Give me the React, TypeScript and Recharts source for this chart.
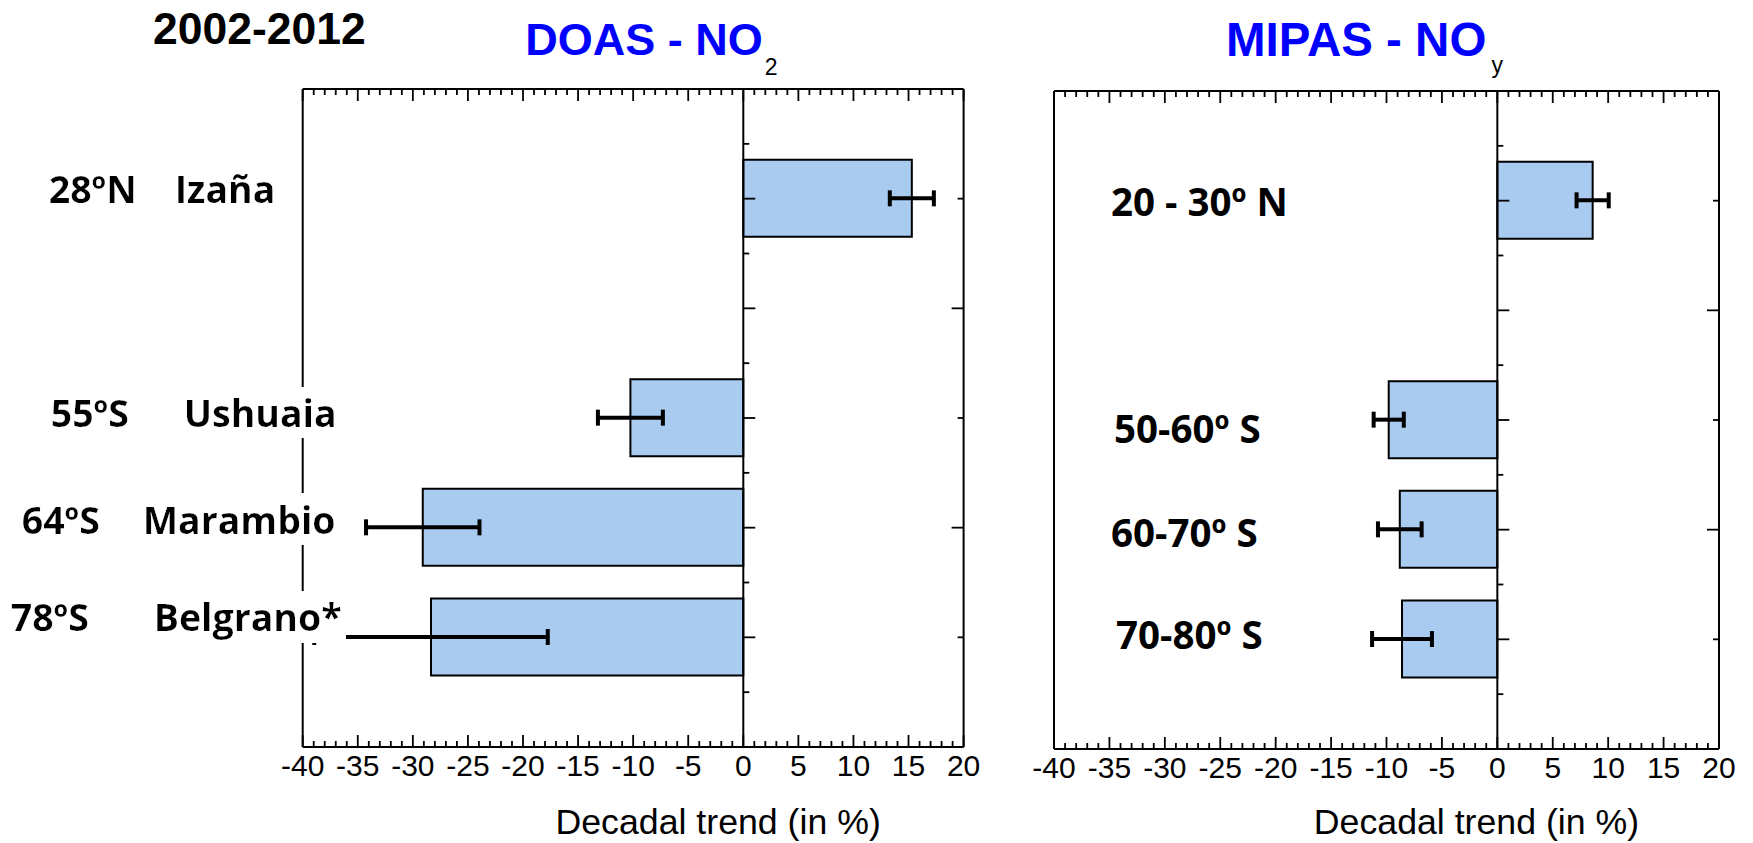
import React from 'react';
import { ComposedChart, Bar, XAxis, YAxis, ErrorBar, ReferenceLine, ReferenceDot } from 'recharts';

// ---------- data ----------
const DOAS_POS = [1, 3, 4, 5];
const DOAS_LAT = ['28ºN', '55ºS', '64ºS', '78ºS'];
const DOAS_STATION = ['Izaña', 'Ushuaia', 'Marambio', 'Belgrano*'];
const DOAS_TREND = [15.3, -10.25, -29.1, -28.35];
const DOAS_ERR = [2.0, 2.95, 5.15, 10.6];

const MIPAS_POS = [1, 3, 4, 5];
const MIPAS_BAND = ['20 - 30º N', '50-60º S', '60-70º S', '70-80º S'];
const MIPAS_TREND = [8.6, -9.8, -8.8, -8.6];
const MIPAS_ERR = [1.45, 1.36, 1.97, 2.7];

const X_LABEL_TICKS = [-40, -35, -30, -25, -20, -15, -10, -5, 0, 5, 10, 15, 20];
const X_DOMAIN: [number, number] = [-40, 20];
const Y_DOMAIN: [number, number] = [0, 6];
const Y_TICKS = [0.5, 1, 1.5, 2, 2.5, 3, 3.5, 4, 4.5, 5, 5.5];

const PERIOD = '2002-2012';
const AXIS_TITLE = 'Decadal trend (in %)';

// ---------- layout / style ----------
const X_ALL_TICKS = Array.from({ length: 61 }, (_, i) => i - 40);
const DOAS_LABEL_LAYOUT = [
  { latDx: -254, stDx: -128, dy: 4 },
  { latDx: -252, stDx: -119, dy: 9 },
  { latDx: -281, stDx: -160, dy: 6 },
  { latDx: -292, stDx: -149, dy: -6 },
];
const MIPAS_LABEL_LAYOUT = [
  { dx: 57, dy: 15 },
  { dx: 60, dy: 23 },
  { dx: 57, dy: 17 },
  { dx: 62, dy: 10 },
];
const BAR_FILL = '#A9CBF0';
const LABEL_FONT = '"Open Sans", "DejaVu Sans", sans-serif';
const AXIS_FONT = '"Liberation Sans", Arial, sans-serif';
const LABEL_SIZE = 37.5;
const RIGHT_LABEL_SIZE = 38.5;
const MAJOR = 12;
const MINOR = 6;

const doasData = DOAS_POS.map((p, i) => ({ p, v: DOAS_TREND[i], err: DOAS_ERR[i] }));
const mipasData = MIPAS_POS.map((p, i) => ({ p, v: MIPAS_TREND[i], err: MIPAS_ERR[i] }));

// ---------- tick renderers ----------
function BottomTick(props: any) {
  const { x, y, payload } = props;
  const v = payload.value;
  const major = X_LABEL_TICKS.includes(v);
  return (
    <g>
      <line x1={x} x2={x} y1={y} y2={y - (major ? MAJOR : MINOR)} stroke="#000" strokeWidth={1.8} />
      {major && (
        <text x={x} y={y + 29} textAnchor="middle" fontFamily={AXIS_FONT} fontSize={30} fill="#000">
          {v}
        </text>
      )}
    </g>
  );
}

function TopTick(props: any) {
  const { x, y, payload } = props;
  const major = X_LABEL_TICKS.includes(payload.value);
  return <line x1={x} x2={x} y1={y} y2={y + (major ? MAJOR : MINOR)} stroke="#000" strokeWidth={1.8} />;
}

function RightTick(props: any) {
  const { x, y, payload } = props;
  const major = Number.isInteger(payload.value);
  return <line x1={x} x2={x - (major ? MAJOR : MINOR)} y1={y} y2={y} stroke="#000" strokeWidth={1.8} />;
}

function zeroTickShape(major: boolean) {
  return (props: any) => (
    <line x1={props.cx} x2={props.cx + (major ? MAJOR : MINOR)} y1={props.cy} y2={props.cy} stroke="#000" strokeWidth={1.8} />
  );
}

function DoasLabel(props: any) {
  const { x, y, payload } = props;
  const i = DOAS_POS.indexOf(payload.value);
  if (i < 0) return <g />;
  const L = DOAS_LABEL_LAYOUT[i];
  const base = y + L.dy;
  return (
    <g>
      <text x={x + L.latDx} y={base} fontFamily={LABEL_FONT} fontWeight={700} fontSize={LABEL_SIZE} fill="#000" filter="url(#wbg)">
        {DOAS_LAT[i]}
      </text>
      <text x={x + L.stDx} y={base} fontFamily={LABEL_FONT} fontWeight={700} fontSize={LABEL_SIZE} fill="#000" filter="url(#wbg)">
        {DOAS_STATION[i]}
      </text>
    </g>
  );
}

function MipasLabel(props: any) {
  const { x, y, payload } = props;
  const i = MIPAS_POS.indexOf(payload.value);
  if (i < 0) return <g />;
  const L = MIPAS_LABEL_LAYOUT[i];
  return (
    <text x={x + L.dx} y={y + L.dy} fontFamily={LABEL_FONT} fontWeight={700} fontSize={RIGHT_LABEL_SIZE} fill="#000">
      {MIPAS_BAND[i]}
    </text>
  );
}

function axisTitle(dx: number, dy: number) {
  return (props: any) => {
    const vb = props.viewBox || {};
    return (
      <text x={vb.x + vb.width / 2 + dx} y={vb.y + dy} textAnchor="middle" fontFamily={AXIS_FONT} fontSize={35.7} fill="#000">
        {AXIS_TITLE}
      </text>
    );
  };
}

function doasTitle(props: any) {
  const vb = props.viewBox || {};
  const top = vb.y + vb.height;
  return (
    <g>
      <text x={vb.x - 149.7} y={top - 45} fontFamily={AXIS_FONT} fontWeight={700} fontSize={44.5} fill="#000">
        {PERIOD}
      </text>
      <text x={vb.x + 222.6} y={top - 34} fontFamily={AXIS_FONT} fontWeight={700} fontSize={45} fill="#0000FF">
        DOAS - NO
        <tspan dx={2} dy={20} fontWeight={400} fontSize={23} fill="#000">2</tspan>
      </text>
    </g>
  );
}

function mipasTitle(props: any) {
  const vb = props.viewBox || {};
  const top = vb.y + vb.height;
  return (
    <text x={vb.x + 172} y={top - 35} fontFamily={AXIS_FONT} fontWeight={700} fontSize={47.5} fill="#0000FF">
      MIPAS - NO
      <tspan dx={5} dy={17} fontWeight={400} fontSize={23} fill="#000">y</tspan>
    </text>
  );
}

const axisLine = { stroke: '#000', strokeWidth: 2 };

function Panel(props: any) {
  const { left, width, margin, data, labelTicks, labelTick, title, titleDx, titleDy } = props;
  return (
    <div style={{ position: 'absolute', left, top: 0, width, height: 843 }}>
      <ComposedChart width={width} height={843} layout="vertical" data={data} margin={margin}>
        <Bar xAxisId="bottom" yAxisId="left" dataKey="v" barSize={77} fill={BAR_FILL} stroke="#000" strokeWidth={2} isAnimationActive={false}>
          <ErrorBar dataKey="err" direction="x" width={8} stroke="#000" strokeWidth={4} />
        </Bar>
        <ReferenceLine x={0} xAxisId="bottom" yAxisId="left" stroke="#000" strokeWidth={2} />
        {Y_TICKS.map((t) => (
          <ReferenceDot key={t} x={0} y={t} xAxisId="bottom" yAxisId="left" r={0} shape={zeroTickShape(Number.isInteger(t))} />
        ))}
        <XAxis xAxisId="top" orientation="top" type="number" domain={X_DOMAIN} allowDataOverflow ticks={X_ALL_TICKS} interval={0}
          tickSize={0} tickMargin={0} tickLine={false} tick={<TopTick />} height={1} axisLine={axisLine} label={title} />
        <XAxis xAxisId="bottom" orientation="bottom" type="number" domain={X_DOMAIN} allowDataOverflow ticks={X_ALL_TICKS} interval={0}
          tickSize={0} tickMargin={0} tickLine={false} tick={<BottomTick />} height={1} axisLine={axisLine} label={axisTitle(titleDx, titleDy)} />
        <YAxis yAxisId="right" orientation="right" type="number" domain={Y_DOMAIN} allowDataOverflow ticks={Y_TICKS} interval={0}
          tickSize={0} tickMargin={0} tickLine={false} tick={<RightTick />} width={1} axisLine={axisLine} />
        <YAxis yAxisId="left" orientation="left" type="number" dataKey="p" domain={Y_DOMAIN} allowDataOverflow ticks={labelTicks} interval={0}
          tickSize={0} tickMargin={0} tickLine={false} tick={labelTick} width={1} axisLine={axisLine} />
      </ComposedChart>
    </div>
  );
}

export default function App() {
  return (
    <div style={{ position: 'absolute', left: 0, top: 0, width: 1753, height: 843, background: '#fff' }}>
      <svg width={0} height={0} style={{ position: 'absolute' }}>
        <defs>
          <filter id="wbg" x="-0.02" y="0" width="1.04" height="1">
            <feFlood floodColor="#fff" result="bg" />
            <feMerge>
              <feMergeNode in="bg" />
              <feMergeNode in="SourceGraphic" />
            </feMerge>
          </filter>
        </defs>
      </svg>
      <Panel left={0} width={1000} margin={{ top: 88, right: 35.4, bottom: 95, left: 301.7 }} data={doasData}
        labelTicks={DOAS_POS} labelTick={<DoasLabel />} title={doasTitle} titleDx={85} titleDy={87} />
      <Panel left={1000} width={753} margin={{ top: 90, right: 33, bottom: 93, left: 53 }} data={mipasData}
        labelTicks={MIPAS_POS} labelTick={<MipasLabel />} title={mipasTitle} titleDx={90} titleDy={85} />
    </div>
  );
}
